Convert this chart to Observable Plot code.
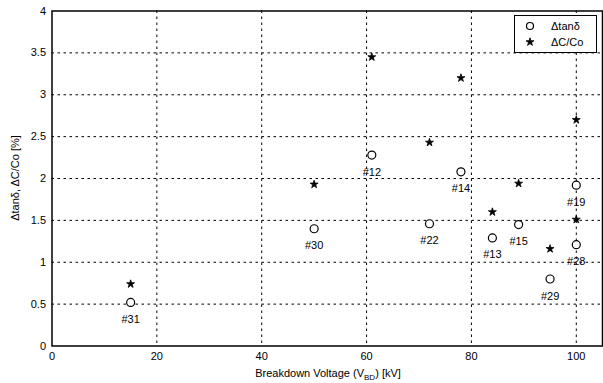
<!DOCTYPE html>
<html><head><meta charset="utf-8">
<script src="https://cdn.jsdelivr.net/npm/d3@7"></script>
<script src="https://cdn.jsdelivr.net/npm/@observablehq/plot@0.6"></script>
<style>
body{margin:0;background:#fff;font-family:"Liberation Sans",Arial,sans-serif;}
#wrap{position:relative;width:603px;height:383px;}
#legend{position:absolute;left:514px;top:15px;width:81px;height:36px;border:1px solid #000;background:#fff;font-size:11px;}
#legend div{position:absolute;left:0;height:16px;line-height:16px;}
</style></head><body>
<div id="wrap"></div>
<script>
// Data
const samples = ["#31","#30","#12","#22","#14","#13","#15","#29","#28","#19"];
const breakdownKV = [15, 50, 61, 72, 78, 84, 89, 95, 100, 100];
const deltaTan = [0.52, 1.40, 2.28, 1.46, 2.08, 1.29, 1.45, 0.80, 1.21, 1.92];
const capVoltage = [15, 50, 61, 72, 78, 84, 89, 95, 100, 100];
const deltaCap = [0.74, 1.93, 3.45, 2.43, 3.20, 1.60, 1.94, 1.16, 1.51, 2.70];
const xTicks = [0, 20, 40, 60, 80, 100];
const yTicks = [0, 0.5, 1, 1.5, 2, 2.5, 3, 3.5, 4];

const tanData = samples.map((s, i) => ({s, x: breakdownKV[i], y: deltaTan[i]}));
const capData = capVoltage.map((x, i) => ({x, y: deltaCap[i]}));

const chart = Plot.plot({
  width: 603, height: 383,
  marginLeft: 51.5, marginRight: 1, marginTop: 10.5, marginBottom: 37.5,
  style: {fontFamily: "Liberation Sans, Arial, sans-serif", fontSize: "11px", background: "#fff"},
  x: {domain: [0, 105]},
  y: {domain: [0, 4]},
  marks: [
    Plot.gridX(xTicks.filter(d => d > 0), {stroke: "#000", strokeOpacity: 1, strokeDasharray: "2.5,3.5", strokeWidth: 1}),
    Plot.gridY(yTicks.filter(d => d > 0 && d < 4), {stroke: "#000", strokeOpacity: 1, strokeDasharray: "2.5,3.5", strokeWidth: 1}),
    Plot.axisX(xTicks, {tickSize: 0, tickPadding: 6, label: null, fill: "#000", fontSize: 11}),
    Plot.axisY(yTicks, {tickSize: 0, tickPadding: 6, label: null, fill: "#000", fontSize: 11, tickFormat: d => String(d)}),
    Plot.frame({stroke: "#000", strokeWidth: 1.5}),
    Plot.dot(tanData, {x: "x", y: "y", r: 4, stroke: "#000", strokeWidth: 1.2, fill: "#fff"}),
    Plot.dot(capData, {x: "x", y: "y", r: 2.5, symbol: "star", fill: "#000", stroke: "#000", strokeWidth: 0.8}),
    Plot.text(tanData, {x: "x", y: "y", text: "s", dy: 17, fill: "#000", fontSize: 11})
  ]
});

const wrap = document.getElementById("wrap");
wrap.appendChild(chart);

// Axis titles with subscript
const svg = d3.select(chart);
const xl = svg.append("text").attr("x", 328).attr("y", 377).attr("text-anchor", "middle")
  .attr("font-size", 11).attr("fill", "#000");
xl.append("tspan").text("Breakdown Voltage (V");
xl.append("tspan").attr("font-size", 8).attr("dy", 3).text("BD");
xl.append("tspan").attr("dy", -3).text(") [kV]");
svg.append("text").attr("transform", "translate(19,178) rotate(-90)").attr("text-anchor", "middle")
  .attr("font-size", 11).attr("fill", "#000").text("\u0394tan\u03b4, \u0394C/Co [%]");

// Legend
const legend = document.createElement("div");
legend.id = "legend";
const items = [{label: "\u0394tan\u03b4", sym: "circle"}, {label: "\u0394C/Co", sym: "star"}];
items.forEach((it, i) => {
  const row = document.createElement("div");
  row.style.top = (2 + i * 16) + "px";
  row.style.width = "81px";
  const s = d3.create("svg").attr("width", 30).attr("height", 16).style("vertical-align", "top");
  if (it.sym === "circle") s.append("circle").attr("cx", 15).attr("cy", 8).attr("r", 3.5).attr("fill", "#fff").attr("stroke", "#000").attr("stroke-width", 1.2);
  else s.append("path").attr("d", d3.symbol(d3.symbolStar, Math.PI * 2.5 * 2.5)()).attr("transform", "translate(15,8)").attr("fill", "#000").attr("stroke", "#000").attr("stroke-width", 0.8);
  row.appendChild(s.node());
  const t = document.createElement("span");
  t.textContent = it.label;
  t.style.position = "absolute"; t.style.left = "36px"; t.style.top = "0";
  row.appendChild(t);
  legend.appendChild(row);
});
wrap.appendChild(legend);
</script>
</body></html>
